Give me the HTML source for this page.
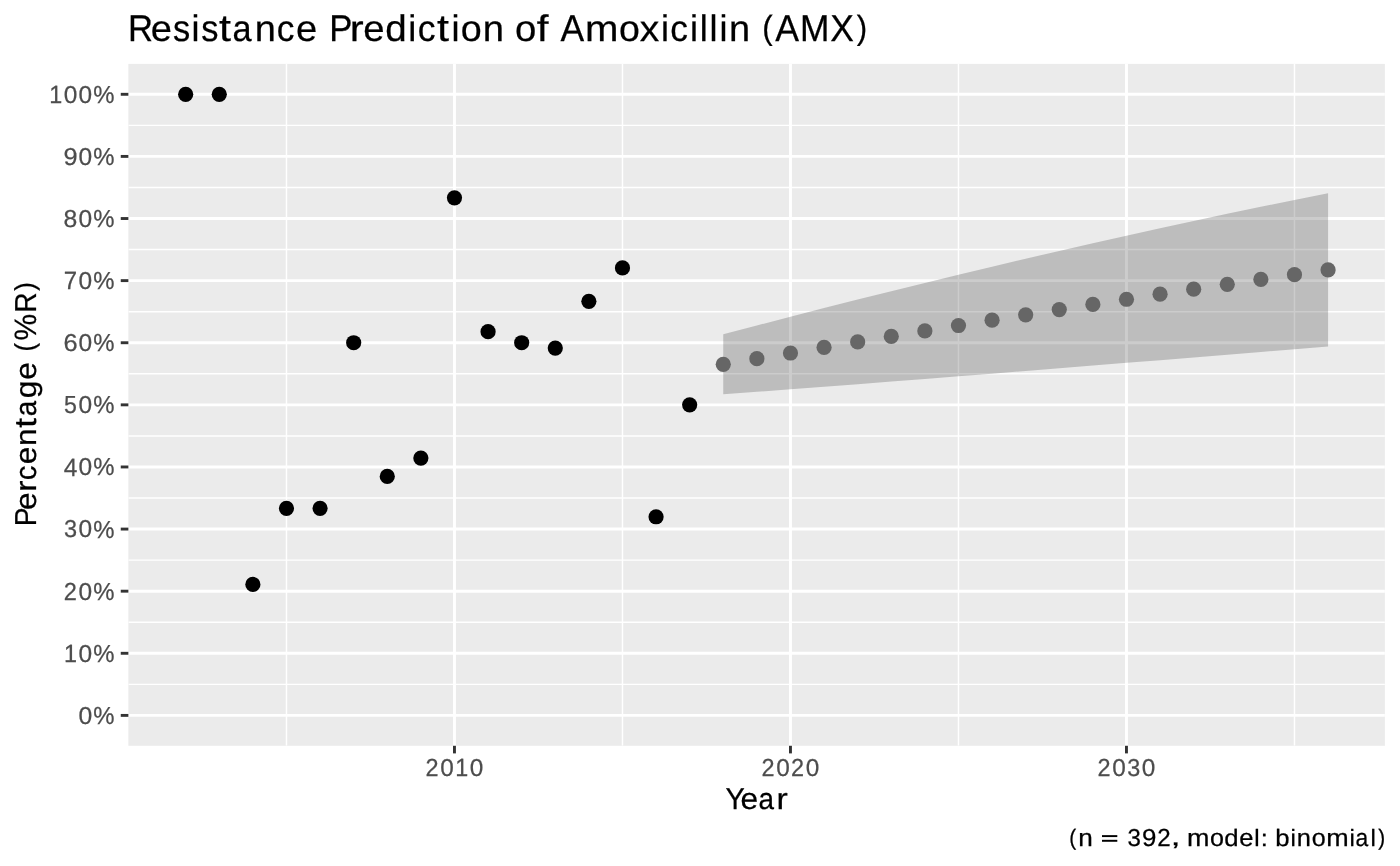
<!DOCTYPE html>
<html><head><meta charset="utf-8"><title>Resistance Prediction of Amoxicillin (AMX)</title>
<style>html,body{margin:0;padding:0;background:#fff;}body{width:1400px;height:866px;overflow:hidden;font-family:"Liberation Sans",sans-serif;}svg{display:block;will-change:transform;filter:grayscale(1);}text{font-family:"Liberation Sans",sans-serif;text-rendering:geometricPrecision;}</style>
</head><body>
<svg width="1400" height="866" viewBox="0 0 1400 866">
<rect x="0" y="0" width="1400" height="866" fill="#ffffff"/>
<rect x="128.35" y="63.9" width="1256.55" height="681.90" fill="#EBEBEB"/>
<clipPath id="pc"><rect x="128.35" y="63.9" width="1256.55" height="681.90"/></clipPath>
<g clip-path="url(#pc)">
<g stroke="#ffffff" stroke-width="1.45" fill="none">
<line x1="128.35" x2="1384.9" y1="684.35" y2="684.35"/>
<line x1="128.35" x2="1384.9" y1="622.23" y2="622.23"/>
<line x1="128.35" x2="1384.9" y1="560.12" y2="560.12"/>
<line x1="128.35" x2="1384.9" y1="498.01" y2="498.01"/>
<line x1="128.35" x2="1384.9" y1="435.90" y2="435.90"/>
<line x1="128.35" x2="1384.9" y1="373.79" y2="373.79"/>
<line x1="128.35" x2="1384.9" y1="311.68" y2="311.68"/>
<line x1="128.35" x2="1384.9" y1="249.57" y2="249.57"/>
<line x1="128.35" x2="1384.9" y1="187.46" y2="187.46"/>
<line x1="128.35" x2="1384.9" y1="125.35" y2="125.35"/>
<line x1="286.47" x2="286.47" y1="63.9" y2="745.8"/>
<line x1="622.47" x2="622.47" y1="63.9" y2="745.8"/>
<line x1="958.47" x2="958.47" y1="63.9" y2="745.8"/>
<line x1="1294.47" x2="1294.47" y1="63.9" y2="745.8"/>
</g>
<g stroke="#ffffff" stroke-width="2.9" fill="none">
<line x1="128.35" x2="1384.9" y1="715.40" y2="715.40"/>
<line x1="128.35" x2="1384.9" y1="653.29" y2="653.29"/>
<line x1="128.35" x2="1384.9" y1="591.18" y2="591.18"/>
<line x1="128.35" x2="1384.9" y1="529.07" y2="529.07"/>
<line x1="128.35" x2="1384.9" y1="466.96" y2="466.96"/>
<line x1="128.35" x2="1384.9" y1="404.85" y2="404.85"/>
<line x1="128.35" x2="1384.9" y1="342.74" y2="342.74"/>
<line x1="128.35" x2="1384.9" y1="280.63" y2="280.63"/>
<line x1="128.35" x2="1384.9" y1="218.52" y2="218.52"/>
<line x1="128.35" x2="1384.9" y1="156.41" y2="156.41"/>
<line x1="128.35" x2="1384.9" y1="94.30" y2="94.30"/>
<line x1="454.47" x2="454.47" y1="63.9" y2="745.8"/>
<line x1="790.47" x2="790.47" y1="63.9" y2="745.8"/>
<line x1="1126.47" x2="1126.47" y1="63.9" y2="745.8"/>
</g>
<g fill="#000000">
<circle cx="185.67" cy="94.30" r="7.6"/>
<circle cx="219.27" cy="94.30" r="7.6"/>
<circle cx="252.87" cy="584.41" r="7.6"/>
<circle cx="286.47" cy="508.37" r="7.6"/>
<circle cx="320.07" cy="508.37" r="7.6"/>
<circle cx="353.67" cy="342.74" r="7.6"/>
<circle cx="387.27" cy="476.40" r="7.6"/>
<circle cx="420.87" cy="458.08" r="7.6"/>
<circle cx="454.47" cy="197.82" r="7.6"/>
<circle cx="488.07" cy="331.68" r="7.6"/>
<circle cx="521.67" cy="342.74" r="7.6"/>
<circle cx="555.27" cy="348.08" r="7.6"/>
<circle cx="588.87" cy="301.33" r="7.6"/>
<circle cx="622.47" cy="267.90" r="7.6"/>
<circle cx="656.07" cy="516.77" r="7.6"/>
<circle cx="689.67" cy="404.85" r="7.6"/>
</g>
<polygon points="723.27,334.29 756.87,325.46 790.47,316.74 824.07,308.11 857.67,299.59 891.27,291.19 924.87,282.89 958.47,274.71 992.07,266.66 1025.67,258.72 1059.27,250.91 1092.87,243.23 1126.47,235.68 1160.07,228.26 1193.67,220.97 1227.27,213.83 1260.87,206.82 1294.47,199.96 1328.07,193.23 1328.07,346.60 1294.47,349.30 1260.87,352.01 1227.27,354.72 1193.67,357.44 1160.07,360.15 1126.47,362.86 1092.87,365.57 1059.27,368.27 1025.67,370.96 992.07,373.64 958.47,376.31 924.87,378.95 891.27,381.58 857.67,384.18 824.07,386.76 790.47,389.31 756.87,391.82 723.27,394.29" fill="#333333" fill-opacity="0.25"/>
<g fill="#666666">
<circle cx="723.27" cy="364.29" r="7.6"/>
<circle cx="756.87" cy="358.64" r="7.6"/>
<circle cx="790.47" cy="353.02" r="7.6"/>
<circle cx="824.07" cy="347.44" r="7.6"/>
<circle cx="857.67" cy="341.89" r="7.6"/>
<circle cx="891.27" cy="336.38" r="7.6"/>
<circle cx="924.87" cy="330.92" r="7.6"/>
<circle cx="958.47" cy="325.51" r="7.6"/>
<circle cx="992.07" cy="320.15" r="7.6"/>
<circle cx="1025.67" cy="314.84" r="7.6"/>
<circle cx="1059.27" cy="309.59" r="7.6"/>
<circle cx="1092.87" cy="304.40" r="7.6"/>
<circle cx="1126.47" cy="299.27" r="7.6"/>
<circle cx="1160.07" cy="294.20" r="7.6"/>
<circle cx="1193.67" cy="289.21" r="7.6"/>
<circle cx="1227.27" cy="284.28" r="7.6"/>
<circle cx="1260.87" cy="279.42" r="7.6"/>
<circle cx="1294.47" cy="274.63" r="7.6"/>
<circle cx="1328.07" cy="269.92" r="7.6"/>
</g>
</g>
<g stroke="#333333" stroke-width="2.9" fill="none">
<line x1="120.75" x2="128.35" y1="715.40" y2="715.40"/>
<line x1="120.75" x2="128.35" y1="653.29" y2="653.29"/>
<line x1="120.75" x2="128.35" y1="591.18" y2="591.18"/>
<line x1="120.75" x2="128.35" y1="529.07" y2="529.07"/>
<line x1="120.75" x2="128.35" y1="466.96" y2="466.96"/>
<line x1="120.75" x2="128.35" y1="404.85" y2="404.85"/>
<line x1="120.75" x2="128.35" y1="342.74" y2="342.74"/>
<line x1="120.75" x2="128.35" y1="280.63" y2="280.63"/>
<line x1="120.75" x2="128.35" y1="218.52" y2="218.52"/>
<line x1="120.75" x2="128.35" y1="156.41" y2="156.41"/>
<line x1="120.75" x2="128.35" y1="94.30" y2="94.30"/>
<line x1="454.47" x2="454.47" y1="745.8" y2="753.40"/>
<line x1="790.47" x2="790.47" y1="745.8" y2="753.40"/>
<line x1="1126.47" x2="1126.47" y1="745.8" y2="753.40"/>
</g>
<text x="127.96" y="40.90" font-size="37.299" fill="#000000" stroke="#000000" stroke-width="0.25" textLength="25.05" lengthAdjust="spacingAndGlyphs">R</text>
<text x="150.86" y="41.04" font-size="36.894" fill="#000000" stroke="#000000" stroke-width="0.25" textLength="21.17" lengthAdjust="spacingAndGlyphs">e</text>
<text x="173.03" y="41.04" font-size="36.993" fill="#000000" stroke="#000000" stroke-width="0.25" textLength="17.20" lengthAdjust="spacingAndGlyphs">s</text>
<text x="191.47" y="40.90" font-size="36.908" fill="#000000" stroke="#000000" stroke-width="0.25" textLength="8.00" lengthAdjust="spacingAndGlyphs">i</text>
<text x="201.17" y="41.04" font-size="36.993" fill="#000000" stroke="#000000" stroke-width="0.25" textLength="17.20" lengthAdjust="spacingAndGlyphs">s</text>
<text x="219.00" y="40.60" font-size="37.774" fill="#000000" stroke="#000000" stroke-width="0.25" textLength="11.96" lengthAdjust="spacingAndGlyphs">t</text>
<text x="232.50" y="41.04" font-size="36.894" fill="#000000" stroke="#000000" stroke-width="0.25" textLength="19.08" lengthAdjust="spacingAndGlyphs">a</text>
<text x="254.78" y="40.90" font-size="36.637" fill="#000000" stroke="#000000" stroke-width="0.25" textLength="21.13" lengthAdjust="spacingAndGlyphs">n</text>
<text x="276.87" y="41.04" font-size="36.894" fill="#000000" stroke="#000000" stroke-width="0.25" textLength="17.68" lengthAdjust="spacingAndGlyphs">c</text>
<text x="296.12" y="41.04" font-size="36.894" fill="#000000" stroke="#000000" stroke-width="0.25" textLength="21.17" lengthAdjust="spacingAndGlyphs">e</text>
<text x="329.15" y="40.90" font-size="37.299" fill="#000000" stroke="#000000" stroke-width="0.25" textLength="23.14" lengthAdjust="spacingAndGlyphs">P</text>
<text x="349.71" y="40.90" font-size="36.637" fill="#000000" stroke="#000000" stroke-width="0.25" textLength="13.91" lengthAdjust="spacingAndGlyphs">r</text>
<text x="363.38" y="41.04" font-size="36.894" fill="#000000" stroke="#000000" stroke-width="0.25" textLength="21.30" lengthAdjust="spacingAndGlyphs">e</text>
<text x="385.21" y="41.04" font-size="37.096" fill="#000000" stroke="#000000" stroke-width="0.25" textLength="21.43" lengthAdjust="spacingAndGlyphs">d</text>
<text x="408.28" y="40.90" font-size="36.908" fill="#000000" stroke="#000000" stroke-width="0.25" textLength="8.05" lengthAdjust="spacingAndGlyphs">i</text>
<text x="417.66" y="41.04" font-size="36.894" fill="#000000" stroke="#000000" stroke-width="0.25" textLength="17.79" lengthAdjust="spacingAndGlyphs">c</text>
<text x="437.00" y="40.60" font-size="37.774" fill="#000000" stroke="#000000" stroke-width="0.25" textLength="11.96" lengthAdjust="spacingAndGlyphs">t</text>
<text x="451.51" y="40.90" font-size="36.908" fill="#000000" stroke="#000000" stroke-width="0.25" textLength="8.05" lengthAdjust="spacingAndGlyphs">i</text>
<text x="460.82" y="41.04" font-size="36.894" fill="#000000" stroke="#000000" stroke-width="0.25" textLength="20.96" lengthAdjust="spacingAndGlyphs">o</text>
<text x="482.82" y="40.90" font-size="36.637" fill="#000000" stroke="#000000" stroke-width="0.25" textLength="21.26" lengthAdjust="spacingAndGlyphs">n</text>
<text x="514.99" y="41.04" font-size="36.894" fill="#000000" stroke="#000000" stroke-width="0.25" textLength="21.30" lengthAdjust="spacingAndGlyphs">o</text>
<text x="536.86" y="40.90" font-size="36.958" fill="#000000" stroke="#000000" stroke-width="0.25" textLength="11.71" lengthAdjust="spacingAndGlyphs">f</text>
<text x="560.53" y="40.90" font-size="37.299" fill="#000000" stroke="#000000" stroke-width="0.25" textLength="23.67" lengthAdjust="spacingAndGlyphs">A</text>
<text x="584.94" y="40.90" font-size="36.637" fill="#000000" stroke="#000000" stroke-width="0.25" textLength="33.43" lengthAdjust="spacingAndGlyphs">m</text>
<text x="619.07" y="41.04" font-size="36.894" fill="#000000" stroke="#000000" stroke-width="0.25" textLength="20.82" lengthAdjust="spacingAndGlyphs">o</text>
<text x="639.73" y="40.90" font-size="36.436" fill="#000000" stroke="#000000" stroke-width="0.25" textLength="19.54" lengthAdjust="spacingAndGlyphs">x</text>
<text x="660.90" y="40.90" font-size="36.908" fill="#000000" stroke="#000000" stroke-width="0.25" textLength="8.00" lengthAdjust="spacingAndGlyphs">i</text>
<text x="670.22" y="41.04" font-size="36.894" fill="#000000" stroke="#000000" stroke-width="0.25" textLength="17.67" lengthAdjust="spacingAndGlyphs">c</text>
<text x="690.05" y="40.90" font-size="36.908" fill="#000000" stroke="#000000" stroke-width="0.25" textLength="8.00" lengthAdjust="spacingAndGlyphs">i</text>
<text x="699.82" y="40.90" font-size="36.908" fill="#000000" stroke="#000000" stroke-width="0.25" textLength="8.00" lengthAdjust="spacingAndGlyphs">l</text>
<text x="709.59" y="40.90" font-size="36.908" fill="#000000" stroke="#000000" stroke-width="0.25" textLength="8.00" lengthAdjust="spacingAndGlyphs">l</text>
<text x="719.39" y="40.90" font-size="36.908" fill="#000000" stroke="#000000" stroke-width="0.25" textLength="8.00" lengthAdjust="spacingAndGlyphs">i</text>
<text x="728.95" y="40.90" font-size="36.637" fill="#000000" stroke="#000000" stroke-width="0.25" textLength="21.12" lengthAdjust="spacingAndGlyphs">n</text>
<text x="762.28" y="38.57" font-size="33.65" fill="#000000" stroke="#000000" stroke-width="0.25" textLength="10.42" lengthAdjust="spacingAndGlyphs">(</text>
<text x="775.37" y="40.90" font-size="37.299" fill="#000000" stroke="#000000" stroke-width="0.25" textLength="23.81" lengthAdjust="spacingAndGlyphs">A</text>
<text x="799.98" y="40.90" font-size="37.299" fill="#000000" stroke="#000000" stroke-width="0.25" textLength="29.43" lengthAdjust="spacingAndGlyphs">M</text>
<text x="830.23" y="40.90" font-size="37.299" fill="#000000" stroke="#000000" stroke-width="0.25" textLength="23.65" lengthAdjust="spacingAndGlyphs">X</text>
<text x="856.70" y="38.57" font-size="33.65" fill="#000000" stroke="#000000" stroke-width="0.25" textLength="10.42" lengthAdjust="spacingAndGlyphs">)</text>
<text x="1069.18" y="845.08" font-size="22.326" fill="#000000" stroke="#000000" stroke-width="0.25" textLength="6.91" lengthAdjust="spacingAndGlyphs">(</text>
<text x="1078.34" y="845.80" font-size="24.428" fill="#000000" stroke="#000000" stroke-width="0.25" textLength="14.56" lengthAdjust="spacingAndGlyphs">n</text>
<rect x="1102.00" y="835.14" width="15.30" height="1.93" fill="#000000"/>
<rect x="1102.00" y="839.82" width="15.30" height="1.95" fill="#000000"/>
<text x="1127.48" y="845.66" font-size="24.364" fill="#000000" stroke="#000000" stroke-width="0.25" textLength="13.39" lengthAdjust="spacingAndGlyphs">3</text>
<text x="1141.99" y="845.66" font-size="24.364" fill="#000000" stroke="#000000" stroke-width="0.25" textLength="14.40" lengthAdjust="spacingAndGlyphs">9</text>
<text x="1157.37" y="845.90" font-size="24.705" fill="#000000" stroke="#000000" stroke-width="0.25" textLength="13.44" lengthAdjust="spacingAndGlyphs">2</text>
<text x="1170.68" y="845.46" font-size="24.007" fill="#000000" stroke="#000000" stroke-width="0.25" textLength="9.63" lengthAdjust="spacingAndGlyphs">,</text>
<text x="1187.01" y="845.80" font-size="24.428" fill="#000000" stroke="#000000" stroke-width="0.25" textLength="22.45" lengthAdjust="spacingAndGlyphs">m</text>
<text x="1209.94" y="845.89" font-size="24.6" fill="#000000" stroke="#000000" stroke-width="0.25" textLength="13.99" lengthAdjust="spacingAndGlyphs">o</text>
<text x="1224.39" y="845.90" font-size="23.67" fill="#000000" stroke="#000000" stroke-width="0.25" textLength="14.30" lengthAdjust="spacingAndGlyphs">d</text>
<text x="1239.39" y="845.89" font-size="24.6" fill="#000000" stroke="#000000" stroke-width="0.25" textLength="14.21" lengthAdjust="spacingAndGlyphs">e</text>
<text x="1254.32" y="845.80" font-size="23.53" fill="#000000" stroke="#000000" stroke-width="0.25" textLength="5.37" lengthAdjust="spacingAndGlyphs">l</text>
<text x="1260.73" y="845.80" font-size="22.971" fill="#000000" stroke="#000000" stroke-width="0.25" textLength="7.11" lengthAdjust="spacingAndGlyphs">:</text>
<text x="1275.34" y="845.90" font-size="23.67" fill="#000000" stroke="#000000" stroke-width="0.25" textLength="14.31" lengthAdjust="spacingAndGlyphs">b</text>
<text x="1290.47" y="845.80" font-size="23.53" fill="#000000" stroke="#000000" stroke-width="0.25" textLength="5.37" lengthAdjust="spacingAndGlyphs">i</text>
<text x="1296.88" y="845.80" font-size="24.428" fill="#000000" stroke="#000000" stroke-width="0.25" textLength="14.18" lengthAdjust="spacingAndGlyphs">n</text>
<text x="1311.66" y="845.89" font-size="24.6" fill="#000000" stroke="#000000" stroke-width="0.25" textLength="13.98" lengthAdjust="spacingAndGlyphs">o</text>
<text x="1326.24" y="845.80" font-size="24.428" fill="#000000" stroke="#000000" stroke-width="0.25" textLength="22.45" lengthAdjust="spacingAndGlyphs">m</text>
<text x="1349.53" y="845.80" font-size="23.53" fill="#000000" stroke="#000000" stroke-width="0.25" textLength="5.37" lengthAdjust="spacingAndGlyphs">i</text>
<text x="1355.54" y="845.89" font-size="24.6" fill="#000000" stroke="#000000" stroke-width="0.25" textLength="12.72" lengthAdjust="spacingAndGlyphs">a</text>
<text x="1370.59" y="845.80" font-size="23.53" fill="#000000" stroke="#000000" stroke-width="0.25" textLength="5.37" lengthAdjust="spacingAndGlyphs">l</text>
<text x="1378.23" y="845.08" font-size="22.326" fill="#000000" stroke="#000000" stroke-width="0.25" textLength="6.91" lengthAdjust="spacingAndGlyphs">)</text>
<text x="725.46" y="808.90" font-size="30.302" fill="#000000" stroke="#000000" stroke-width="0.25" textLength="19.29" lengthAdjust="spacingAndGlyphs">Y</text>
<text x="740.43" y="809.02" font-size="29.992" fill="#000000" stroke="#000000" stroke-width="0.25" textLength="17.61" lengthAdjust="spacingAndGlyphs">e</text>
<text x="758.38" y="809.02" font-size="29.992" fill="#000000" stroke="#000000" stroke-width="0.25" textLength="15.51" lengthAdjust="spacingAndGlyphs">a</text>
<text x="776.56" y="808.90" font-size="29.764" fill="#000000" stroke="#000000" stroke-width="0.25" textLength="11.30" lengthAdjust="spacingAndGlyphs">r</text>
<text x="36.00" y="526.21" font-size="30.302" fill="#000000" stroke="#000000" stroke-width="0.25" textLength="18.80" lengthAdjust="spacingAndGlyphs" transform="rotate(-90 36.00 526.21)">P</text>
<text x="36.12" y="509.89" font-size="29.992" fill="#000000" stroke="#000000" stroke-width="0.25" textLength="17.60" lengthAdjust="spacingAndGlyphs" transform="rotate(-90 36.12 509.89)">e</text>
<text x="36.00" y="491.73" font-size="29.764" fill="#000000" stroke="#000000" stroke-width="0.25" textLength="11.30" lengthAdjust="spacingAndGlyphs" transform="rotate(-90 36.00 491.73)">r</text>
<text x="36.12" y="480.36" font-size="29.992" fill="#000000" stroke="#000000" stroke-width="0.25" textLength="14.70" lengthAdjust="spacingAndGlyphs" transform="rotate(-90 36.12 480.36)">c</text>
<text x="36.12" y="464.34" font-size="29.992" fill="#000000" stroke="#000000" stroke-width="0.25" textLength="17.60" lengthAdjust="spacingAndGlyphs" transform="rotate(-90 36.12 464.34)">e</text>
<text x="36.00" y="446.03" font-size="29.764" fill="#000000" stroke="#000000" stroke-width="0.25" textLength="17.57" lengthAdjust="spacingAndGlyphs" transform="rotate(-90 36.00 446.03)">n</text>
<text x="35.76" y="427.76" font-size="30.688" fill="#000000" stroke="#000000" stroke-width="0.25" textLength="9.72" lengthAdjust="spacingAndGlyphs" transform="rotate(-90 35.76 427.76)">t</text>
<text x="36.12" y="416.35" font-size="29.992" fill="#000000" stroke="#000000" stroke-width="0.25" textLength="15.51" lengthAdjust="spacingAndGlyphs" transform="rotate(-90 36.12 416.35)">a</text>
<text x="35.93" y="398.30" font-size="29.721" fill="#000000" stroke="#000000" stroke-width="0.25" textLength="17.71" lengthAdjust="spacingAndGlyphs" transform="rotate(-90 35.93 398.30)">g</text>
<text x="36.12" y="379.70" font-size="29.992" fill="#000000" stroke="#000000" stroke-width="0.25" textLength="17.60" lengthAdjust="spacingAndGlyphs" transform="rotate(-90 36.12 379.70)">e</text>
<text x="34.19" y="351.49" font-size="27.442" fill="#000000" stroke="#000000" stroke-width="0.25" textLength="8.50" lengthAdjust="spacingAndGlyphs" transform="rotate(-90 34.19 351.49)">(</text>
<text x="36.23" y="340.38" font-size="30.926" fill="#000000" stroke="#000000" stroke-width="0.25" textLength="26.67" lengthAdjust="spacingAndGlyphs" transform="rotate(-90 36.23 340.38)">%</text>
<text x="36.00" y="312.69" font-size="30.302" fill="#000000" stroke="#000000" stroke-width="0.25" textLength="20.35" lengthAdjust="spacingAndGlyphs" transform="rotate(-90 36.00 312.69)">R</text>
<text x="34.19" y="290.81" font-size="27.442" fill="#000000" stroke="#000000" stroke-width="0.25" textLength="8.50" lengthAdjust="spacingAndGlyphs" transform="rotate(-90 34.19 290.81)">)</text>
<text x="425.49" y="776.10" font-size="24.705" fill="#4D4D4D" stroke="#4D4D4D" stroke-width="0.25" textLength="13.07" lengthAdjust="spacingAndGlyphs">2</text>
<text x="440.25" y="775.86" font-size="24.364" fill="#4D4D4D" stroke="#4D4D4D" stroke-width="0.25" textLength="13.56" lengthAdjust="spacingAndGlyphs">0</text>
<text x="455.15" y="776.10" font-size="25.073" fill="#4D4D4D" stroke="#4D4D4D" stroke-width="0.25" textLength="12.97" lengthAdjust="spacingAndGlyphs">1</text>
<text x="469.67" y="775.86" font-size="24.364" fill="#4D4D4D" stroke="#4D4D4D" stroke-width="0.25" textLength="13.56" lengthAdjust="spacingAndGlyphs">0</text>
<text x="761.49" y="776.10" font-size="24.705" fill="#4D4D4D" stroke="#4D4D4D" stroke-width="0.25" textLength="13.07" lengthAdjust="spacingAndGlyphs">2</text>
<text x="776.25" y="775.86" font-size="24.364" fill="#4D4D4D" stroke="#4D4D4D" stroke-width="0.25" textLength="13.56" lengthAdjust="spacingAndGlyphs">0</text>
<text x="790.91" y="776.10" font-size="24.705" fill="#4D4D4D" stroke="#4D4D4D" stroke-width="0.25" textLength="13.07" lengthAdjust="spacingAndGlyphs">2</text>
<text x="805.67" y="775.86" font-size="24.364" fill="#4D4D4D" stroke="#4D4D4D" stroke-width="0.25" textLength="13.56" lengthAdjust="spacingAndGlyphs">0</text>
<text x="1097.49" y="776.10" font-size="24.705" fill="#4D4D4D" stroke="#4D4D4D" stroke-width="0.25" textLength="13.07" lengthAdjust="spacingAndGlyphs">2</text>
<text x="1112.25" y="775.86" font-size="24.364" fill="#4D4D4D" stroke="#4D4D4D" stroke-width="0.25" textLength="13.56" lengthAdjust="spacingAndGlyphs">0</text>
<text x="1127.26" y="775.86" font-size="24.364" fill="#4D4D4D" stroke="#4D4D4D" stroke-width="0.25" textLength="13.02" lengthAdjust="spacingAndGlyphs">3</text>
<text x="1141.67" y="775.86" font-size="24.364" fill="#4D4D4D" stroke="#4D4D4D" stroke-width="0.25" textLength="13.56" lengthAdjust="spacingAndGlyphs">0</text>
<text x="78.41" y="723.76" font-size="24.364" fill="#4D4D4D" stroke="#4D4D4D" stroke-width="0.25" textLength="13.76" lengthAdjust="spacingAndGlyphs">0</text>
<text x="93.15" y="723.86" font-size="24.653" fill="#4D4D4D" stroke="#4D4D4D" stroke-width="0.25" textLength="21.25" lengthAdjust="spacingAndGlyphs">%</text>
<text x="63.92" y="661.89" font-size="25.073" fill="#4D4D4D" stroke="#4D4D4D" stroke-width="0.25" textLength="13.03" lengthAdjust="spacingAndGlyphs">1</text>
<text x="78.52" y="661.65" font-size="24.364" fill="#4D4D4D" stroke="#4D4D4D" stroke-width="0.25" textLength="13.64" lengthAdjust="spacingAndGlyphs">0</text>
<text x="93.15" y="661.75" font-size="24.653" fill="#4D4D4D" stroke="#4D4D4D" stroke-width="0.25" textLength="21.25" lengthAdjust="spacingAndGlyphs">%</text>
<text x="63.66" y="599.78" font-size="24.705" fill="#4D4D4D" stroke="#4D4D4D" stroke-width="0.25" textLength="13.15" lengthAdjust="spacingAndGlyphs">2</text>
<text x="78.51" y="599.54" font-size="24.364" fill="#4D4D4D" stroke="#4D4D4D" stroke-width="0.25" textLength="13.64" lengthAdjust="spacingAndGlyphs">0</text>
<text x="93.15" y="599.64" font-size="24.653" fill="#4D4D4D" stroke="#4D4D4D" stroke-width="0.25" textLength="21.25" lengthAdjust="spacingAndGlyphs">%</text>
<text x="64.02" y="537.43" font-size="24.364" fill="#4D4D4D" stroke="#4D4D4D" stroke-width="0.25" textLength="13.10" lengthAdjust="spacingAndGlyphs">3</text>
<text x="78.51" y="537.43" font-size="24.364" fill="#4D4D4D" stroke="#4D4D4D" stroke-width="0.25" textLength="13.64" lengthAdjust="spacingAndGlyphs">0</text>
<text x="93.15" y="537.53" font-size="24.653" fill="#4D4D4D" stroke="#4D4D4D" stroke-width="0.25" textLength="21.25" lengthAdjust="spacingAndGlyphs">%</text>
<text x="63.71" y="475.56" font-size="25.073" fill="#4D4D4D" stroke="#4D4D4D" stroke-width="0.25" textLength="13.65" lengthAdjust="spacingAndGlyphs">4</text>
<text x="78.51" y="475.32" font-size="24.364" fill="#4D4D4D" stroke="#4D4D4D" stroke-width="0.25" textLength="13.65" lengthAdjust="spacingAndGlyphs">0</text>
<text x="93.15" y="475.42" font-size="24.653" fill="#4D4D4D" stroke="#4D4D4D" stroke-width="0.25" textLength="21.25" lengthAdjust="spacingAndGlyphs">%</text>
<text x="64.01" y="413.21" font-size="24.722" fill="#4D4D4D" stroke="#4D4D4D" stroke-width="0.25" textLength="12.88" lengthAdjust="spacingAndGlyphs">5</text>
<text x="78.51" y="413.21" font-size="24.364" fill="#4D4D4D" stroke="#4D4D4D" stroke-width="0.25" textLength="13.64" lengthAdjust="spacingAndGlyphs">0</text>
<text x="93.15" y="413.31" font-size="24.653" fill="#4D4D4D" stroke="#4D4D4D" stroke-width="0.25" textLength="21.25" lengthAdjust="spacingAndGlyphs">%</text>
<text x="63.48" y="351.10" font-size="24.364" fill="#4D4D4D" stroke="#4D4D4D" stroke-width="0.25" textLength="14.12" lengthAdjust="spacingAndGlyphs">6</text>
<text x="78.51" y="351.10" font-size="24.364" fill="#4D4D4D" stroke="#4D4D4D" stroke-width="0.25" textLength="13.65" lengthAdjust="spacingAndGlyphs">0</text>
<text x="93.15" y="351.20" font-size="24.653" fill="#4D4D4D" stroke="#4D4D4D" stroke-width="0.25" textLength="21.25" lengthAdjust="spacingAndGlyphs">%</text>
<text x="63.82" y="289.23" font-size="25.073" fill="#4D4D4D" stroke="#4D4D4D" stroke-width="0.25" textLength="13.35" lengthAdjust="spacingAndGlyphs">7</text>
<text x="78.51" y="288.99" font-size="24.364" fill="#4D4D4D" stroke="#4D4D4D" stroke-width="0.25" textLength="13.64" lengthAdjust="spacingAndGlyphs">0</text>
<text x="93.15" y="289.09" font-size="24.653" fill="#4D4D4D" stroke="#4D4D4D" stroke-width="0.25" textLength="21.25" lengthAdjust="spacingAndGlyphs">%</text>
<text x="63.64" y="226.88" font-size="24.364" fill="#4D4D4D" stroke="#4D4D4D" stroke-width="0.25" textLength="13.79" lengthAdjust="spacingAndGlyphs">8</text>
<text x="78.51" y="226.88" font-size="24.364" fill="#4D4D4D" stroke="#4D4D4D" stroke-width="0.25" textLength="13.65" lengthAdjust="spacingAndGlyphs">0</text>
<text x="93.15" y="226.98" font-size="24.653" fill="#4D4D4D" stroke="#4D4D4D" stroke-width="0.25" textLength="21.25" lengthAdjust="spacingAndGlyphs">%</text>
<text x="63.42" y="164.77" font-size="24.364" fill="#4D4D4D" stroke="#4D4D4D" stroke-width="0.25" textLength="14.09" lengthAdjust="spacingAndGlyphs">9</text>
<text x="78.51" y="164.77" font-size="24.364" fill="#4D4D4D" stroke="#4D4D4D" stroke-width="0.25" textLength="13.65" lengthAdjust="spacingAndGlyphs">0</text>
<text x="93.15" y="164.87" font-size="24.653" fill="#4D4D4D" stroke="#4D4D4D" stroke-width="0.25" textLength="21.25" lengthAdjust="spacingAndGlyphs">%</text>
<text x="49.23" y="102.90" font-size="25.073" fill="#4D4D4D" stroke="#4D4D4D" stroke-width="0.25" textLength="12.99" lengthAdjust="spacingAndGlyphs">1</text>
<text x="63.78" y="102.66" font-size="24.364" fill="#4D4D4D" stroke="#4D4D4D" stroke-width="0.25" textLength="13.60" lengthAdjust="spacingAndGlyphs">0</text>
<text x="78.55" y="102.66" font-size="24.364" fill="#4D4D4D" stroke="#4D4D4D" stroke-width="0.25" textLength="13.60" lengthAdjust="spacingAndGlyphs">0</text>
<text x="93.15" y="102.76" font-size="24.653" fill="#4D4D4D" stroke="#4D4D4D" stroke-width="0.25" textLength="21.25" lengthAdjust="spacingAndGlyphs">%</text>
</svg>
</body></html>
